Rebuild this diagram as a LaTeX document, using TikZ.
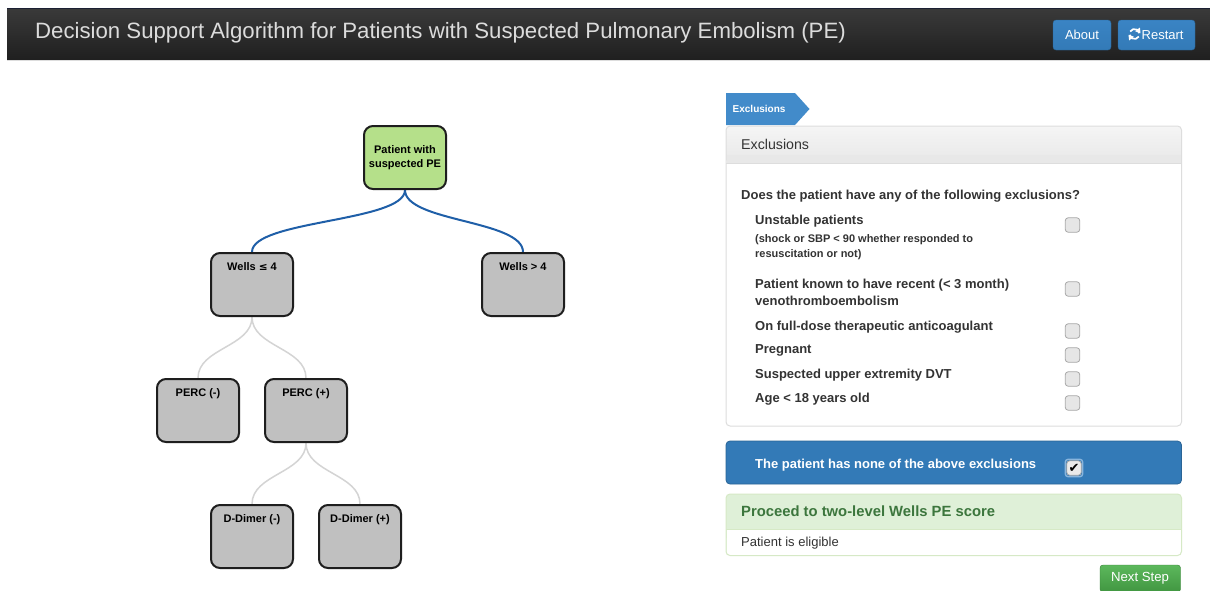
\documentclass[tikz,border=0pt]{standalone}
\usepackage{fontspec}
\setmainfont{Liberation Sans}
\newfontfamily\symfont{DejaVu Sans}
\usetikzlibrary{backgrounds,arrows.meta}

\definecolor{barTop}{HTML}{3A3A3A}
\definecolor{barBot}{HTML}{1F1F1F}
\definecolor{barLine}{HTML}{1B2033}
\definecolor{titleGray}{HTML}{DCDCDC}
\definecolor{btnBlue}{HTML}{337AB7}
\definecolor{btnBlueTop}{HTML}{3A84C4}
\definecolor{btnBlueDark}{HTML}{2A6496}
\definecolor{rootGreen}{HTML}{B5E08A}
\definecolor{boxGray}{HTML}{C0C0C0}
\definecolor{boxEdge}{HTML}{1E1E1E}
\definecolor{linkBlue}{HTML}{1F5FA8}
\definecolor{linkGray}{HTML}{D4D4D4}
\definecolor{crumbBlue}{HTML}{428BCA}
\definecolor{panelEdge}{HTML}{DDDDDD}
\definecolor{panelHeadTop}{HTML}{F5F5F5}
\definecolor{panelHeadBot}{HTML}{E8E8E8}
\definecolor{textDark}{HTML}{333333}
\definecolor{okBg}{HTML}{DFF0D8}
\definecolor{okEdge}{HTML}{D6E9C6}
\definecolor{okText}{HTML}{3C763D}
\definecolor{goTop}{HTML}{5CB85C}
\definecolor{goBot}{HTML}{419641}
\definecolor{cbFill}{HTML}{E6E6E6}
\definecolor{cbEdge}{HTML}{A8A8A8}

\newcommand{\fs}[1]{\fontsize{#1}{#1}\selectfont}

\tikzset{
  treebox/.style={draw=boxEdge, line width=2pt, rounded corners=9pt,
    fill=boxGray, minimum width=82pt, minimum height=63pt, inner sep=0pt},
  rootbox/.style={treebox, fill=rootGreen, align=center,
    font=\bfseries\fontsize{11}{14}\selectfont, text=black},
  boxlbl/.style={anchor=north, inner sep=0pt, yshift=-10pt,
    font=\bfseries\fs{11}, text=black},
  bluelink/.style={draw=linkBlue, line width=2pt},
  graylink/.style={draw=linkGray, line width=1.5pt},
  txt/.style={anchor=mid west, inner sep=0pt, text=textDark, yshift=-2pt},
  itemtxt/.style={txt, font=\bfseries\fs{13}},
  subtxt/.style={txt, font=\bfseries\fs{11}},
  checkbox/.style={draw=cbEdge, fill=cbFill, rounded corners=3pt,
    minimum size=14.5pt, inner sep=0pt, line width=0.8pt},
  btn/.style={rounded corners=3pt, text=white, inner sep=0pt}
}

\begin{document}
\begin{tikzpicture}[x=1pt, y=-1pt]
\useasboundingbox (0,0) rectangle (1210,590);
\begin{scope}[on background layer]
  \fill[white] (0,0) rectangle (1210,590);
\end{scope}

% ---- title bar ----
\shade[top color=barTop, bottom color=barBot] (7,8) rectangle (1210,60);
\draw[barLine, line width=1.2pt] (7,8.6) -- (1210,8.6);
\draw[panelEdge, line width=0.8pt] (7,60.4) -- (1210,60.4);
\node[anchor=base west, inner sep=0pt, text=titleGray, font=\fs{22.2}]
  (title) at (35,38.8) {Decision Support Algorithm for Patients with Suspected Pulmonary Embolism (PE)};

\shade[btn, top color=btnBlueTop, bottom color=btnBlue, draw=btnBlueDark]
  (1053,20) rectangle (1111,50);
\node[inner sep=0pt, text=white, font=\fs{13}] (about) at (1082,34.5) {About};
\shade[btn, top color=btnBlueTop, bottom color=btnBlue, draw=btnBlueDark]
  (1118,20) rectangle (1195,50);
\node[anchor=base west, inner sep=0pt, text=white, font=\fs{13}] (restart) at (1141.5,39) {Restart};
% refresh icon
\begin{scope}[white, line width=1.7pt]
  \draw (1134.5,34) ++(30:5) arc[start angle=30, end angle=170, radius=5];
  \draw (1134.5,34) ++(210:5) arc[start angle=210, end angle=350, radius=5];
  \fill (1139.9,27.5) -- (1140.5,33.2) -- (1135.2,31.3) -- cycle;
  \fill (1129.1,40.5) -- (1128.5,34.8) -- (1133.8,36.7) -- cycle;
\end{scope}

% ---- decision tree ----
\node[rootbox] (root) at (405,157.5) {Patient with\\suspected PE};
\node[treebox, label={[boxlbl]north:Wells {\symfont\fs{10.5}≤} 4}] (wlo) at (252,284.5) {};
\node[treebox, label={[boxlbl]north:Wells > 4}] (whi) at (523,284.5) {};
\node[treebox, label={[boxlbl]north:PERC (-)}] (percn) at (198,410.5) {};
\node[treebox, label={[boxlbl]north:PERC (+)}] (percp) at (306,410.5) {};
\node[treebox, label={[boxlbl]north:D-Dimer (-)}] (ddn) at (252,536.5) {};
\node[treebox, label={[boxlbl]north:D-Dimer (+)}] (ddp) at (360,536.5) {};

\begin{scope}[on background layer]
  \draw[bluelink] (root.south) .. controls +(0,32) and +(0,-32) .. (wlo.north);
  \draw[bluelink] (root.south) .. controls +(0,32) and +(0,-32) .. (whi.north);
  \draw[graylink] (wlo.south) .. controls +(0,30) and +(0,-30) .. (percn.north);
  \draw[graylink] (wlo.south) .. controls +(0,30) and +(0,-30) .. (percp.north);
  \draw[graylink] (percp.south) .. controls +(0,30) and +(0,-30) .. (ddn.north);
  \draw[graylink] (percp.south) .. controls +(0,30) and +(0,-30) .. (ddp.north);
\end{scope}

% ---- breadcrumb ----
\fill[crumbBlue] (726,93) -- (795,93) -- (809.5,109) -- (795,125) -- (726,125) -- cycle;
\node[anchor=mid west, inner sep=0pt, text=white, font=\bfseries\fs{10}] (crumb) at (732.5,110) {Exclusions};

% ---- exclusions panel ----
\fill[white, rounded corners=4pt] (726,126) rectangle (1181.5,426);
\shade[top color=panelHeadTop, bottom color=panelHeadBot, rounded corners=4pt]
  (726,126) rectangle (1181.5,163);
\fill[panelHeadBot] (726.5,155) rectangle (1181,163);
\draw[panelEdge] (726,163) -- (1181.5,163);
\draw[panelEdge, line width=1pt, rounded corners=4pt] (726,126) rectangle (1181.5,426);
\node[txt, font=\fs{14.2}] (exhead) at (741,144.5) {Exclusions};

\node[itemtxt] (question) at (741,195) {Does the patient have any of the following exclusions?};

\node[itemtxt] (unstable) at (755,220) {Unstable patients};
\node[subtxt] (unstA) at (755,237.5) {(shock or SBP < 90 whether responded to};
\node[subtxt] (unstB) at (755,252.5) {resuscitation or not)};
\node[checkbox] (cb1) at (1072.5,225) {};

\node[itemtxt] (vte) at (755,284) {Patient known to have recent (< 3 month)};
\node[itemtxt] (vteB) at (755,301) {venothromboembolism};
\node[checkbox] (cb2) at (1072.5,289) {};

\node[itemtxt] (anticoag) at (755,325.5) {On full-dose therapeutic anticoagulant};
\node[checkbox] (cb3) at (1072.5,331) {};

\node[itemtxt] (preg) at (755,349) {Pregnant};
\node[checkbox] (cb4) at (1072.5,355) {};

\node[itemtxt] (dvt) at (755,373.5) {Suspected upper extremity DVT};
\node[checkbox] (cb5) at (1072.5,379) {};

\node[itemtxt] (age) at (755,397.5) {Age < 18 years old};
\node[checkbox] (cb6) at (1072.5,403) {};

% ---- none-of-the-above bar ----
\fill[btnBlue, rounded corners=4pt] (726,441) rectangle (1181.5,484);
\draw[btnBlueDark, rounded corners=4pt, line width=0.8pt] (726,441) rectangle (1181.5,484);
\node[txt, text=white, font=\bfseries\fs{13}] (none) at (755,463.5) {The patient has none of the above exclusions};
\node[draw=btnBlueTop!60!white, line width=1.4pt, rounded corners=3pt,
  minimum size=17.5pt, inner sep=0pt] (cbring) at (1074,468) {};
\node[checkbox, fill=cbFill!85!white, draw=cbEdge] (cb7) at (1074,468) {};
\node[inner sep=0pt, text=black, font=\symfont\fs{13}] (tick) at (cb7.center) {✔};

% ---- result panel ----
\fill[okBg, rounded corners=4pt] (726,494) rectangle (1181.5,555.5);
\fill[white] (726.5,529) rectangle (1181,550);
\fill[white, rounded corners=4pt] (726.5,535) rectangle (1181,555.5);
\draw[okEdge] (726,529) -- (1181.5,529);
\draw[okEdge, line width=1pt, rounded corners=4pt] (726,494) rectangle (1181.5,555.5);
\node[txt, text=okText, font=\bfseries\fs{14.8}] (proceed) at (741,511.5) {Proceed to two-level Wells PE score};
\node[txt, font=\fs{13}] (eligible) at (741,542) {Patient is eligible};

% ---- next step button ----
\shade[btn, top color=goTop, bottom color=goBot, draw=goBot!85!black]
  (1100,565) rectangle (1180.5,592);
\node[inner sep=0pt, text=white, font=\fs{13.2}] (next) at (1140,578.5) {Next Step};
\end{tikzpicture}
\end{document}
